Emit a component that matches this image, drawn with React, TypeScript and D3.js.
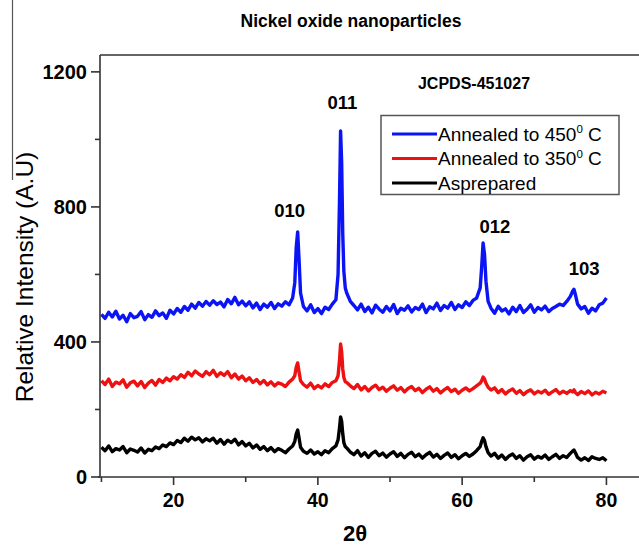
import { useEffect, useRef } from 'react';
import * as d3 from 'd3';

// 2theta positions (deg), denser around the reflections
const twoTheta = [
  10, 10.5, 11, 11.5, 12, 12.5, 13, 13.5, 14, 14.5,
  15, 15.5, 16, 16.5, 17, 17.5, 18, 18.5, 19, 19.5,
  20, 20.5, 21, 21.5, 22, 22.5, 23, 23.5, 24, 24.5,
  25, 25.5, 26, 26.5, 27, 27.5, 28, 28.5, 29, 29.5,
  30, 30.5, 31, 31.5, 32, 32.5, 33, 33.5, 34, 34.5,
  35, 35.5, 36, 36.5,
  36.8, 37.0, 37.2, 37.4, 37.6,
  38, 38.5, 39, 39.5, 40, 40.5, 41, 41.5, 42, 42.5,
  42.8, 43.0, 43.15, 43.3, 43.45, 43.6, 43.8,
  44, 44.5, 45, 45.5, 46, 46.5, 47, 47.5, 48, 48.5,
  49, 49.5, 50, 50.5, 51, 51.5, 52, 52.5, 53, 53.5,
  54, 54.5, 55, 55.5, 56, 56.5, 57, 57.5, 58, 58.5,
  59, 59.5, 60, 60.5, 61, 61.5, 62, 62.5,
  62.7, 62.9, 63.1, 63.3, 63.6,
  64, 64.5, 65, 65.5, 66, 66.5, 67, 67.5, 68, 68.5,
  69, 69.5, 70, 70.5, 71, 71.5, 72, 72.5, 73, 73.5,
  74, 74.5, 75,
  75.3, 75.5, 75.7,
  76, 76.5, 77, 77.5, 78, 78.5, 79, 79.5, 80,
];

const annealed450 = [
  482, 470, 488, 474, 491, 468, 479, 460, 484, 472,
  476, 490, 466, 481, 473, 492, 478, 486, 470, 494,
  483, 499, 488, 505, 494, 512, 500, 517, 506, 520,
  509, 522, 511, 518, 504, 526, 513, 532, 510, 521,
  507, 519, 501, 515, 496, 512, 503, 517, 499, 513,
  506, 519, 510, 530,
  575, 680, 726, 640, 545,
  505, 492, 510, 487, 499, 484, 503, 496, 512, 525,
  600, 820, 1025, 930, 720, 610, 560,
  545, 520, 508, 495, 512, 490, 503, 486, 509, 497,
  488, 505, 492, 511, 484, 500, 494, 507, 489, 502,
  496, 512, 487, 504, 498, 515, 493, 508, 500, 517,
  496, 510, 502, 519, 508, 523, 530, 560,
  620, 693, 660, 580, 520,
  500, 485, 506, 492, 498, 483, 503, 490, 508, 487,
  497, 510, 488, 502, 495, 506, 490, 499, 505, 512,
  508, 520, 535,
  550, 556, 540,
  512, 498, 505, 485, 500, 492, 510, 515, 530,
];

const annealed350 = [
  285, 274, 290, 268, 281, 276, 288, 266, 279, 284,
  270, 283, 265, 278, 286, 272, 289, 280, 293, 285,
  297, 290, 303, 295, 310, 300, 314, 305, 298, 312,
  303, 316, 298, 309, 301, 312, 294, 305, 290, 299,
  285, 294, 280, 289, 276, 286, 273, 282, 270, 279,
  275, 268, 281, 290,
  300, 325, 338, 310, 285,
  274, 266, 278, 262, 271, 264, 276, 268, 280, 285,
  300, 345, 394, 370, 320, 295, 282,
  280, 270, 262, 274, 258, 268, 255, 265, 272, 259,
  266, 254, 263, 270, 257, 265, 252, 262, 268, 256,
  263, 250, 260, 267, 254, 262, 249, 258, 265, 253,
  260, 248, 257, 264, 255, 262, 270, 278,
  285, 296, 290, 278, 266,
  258, 264, 250, 259, 246, 255, 261, 248, 256, 244,
  253, 258, 246, 254, 249, 257, 245, 252, 259, 247,
  254, 248, 256,
  252, 258, 250,
  244, 253, 247, 255, 243, 251, 246, 254, 249,
];

const asPrepared = [
  88, 78, 92, 75, 84, 80, 90, 72, 83, 79,
  74, 86, 71, 82, 78, 89, 84, 95, 90, 101,
  96, 108, 102, 115, 106, 118, 110, 116, 104, 113,
  107, 115, 100, 111, 97, 109, 102, 112, 95, 105,
  92, 100, 86, 95, 82, 90, 78, 87, 75, 84,
  79, 72, 83, 92,
  105, 128, 139, 115, 88,
  76, 70, 80, 68, 75, 66, 78, 72, 84, 92,
  110, 145, 178, 165, 128, 102, 90,
  86, 74, 66, 78, 62, 72, 58, 70, 76, 63,
  71, 59, 68, 75, 61, 70, 57, 67, 73, 60,
  68, 56, 66, 73, 59, 67, 55, 64, 71, 58,
  66, 54, 63, 70, 61, 68, 78, 90,
  105, 116, 108, 90, 72,
  62, 70, 56, 65, 52, 62, 68, 55, 63, 50,
  60, 66, 53, 61, 56, 65, 52, 60, 67, 55,
  63, 58, 70,
  76, 80, 72,
  58, 50, 57, 49, 60, 55, 52, 57, 48,
];

const yTicks = [0, 400, 800, 1200];
const yMinorTicks = [200, 600, 1000];
const xTicks = [20, 40, 60, 80];
const xMinorTicks = [10, 30, 50, 70];

const peakLabels = [
  { hkl: '010', t: 36.1, v: 770 },
  { hkl: '011', t: 43.4, v: 1090 },
  { hkl: '012', t: 64.55, v: 723 },
  { hkl: '103', t: 76.9, v: 598 },
];

const seriesList = [
  { label: 'Annealed to 450', sup: '0', unit: ' C', color: '#0a14f5', values: annealed450 },
  { label: 'Annealed to 350', sup: '0', unit: ' C', color: '#ee1111', values: annealed350 },
  { label: 'Asprepared', sup: '', unit: '', color: '#000000', values: asPrepared },
];

const FONT = '"Liberation Sans", Arial, sans-serif';

const App = () => {
  const svgRef = useRef<SVGSVGElement>(null);

  useEffect(() => {
    const width = 639;
    const height = 545;
    const left = 100, top = 55, bottom = 477;

    const svg = d3.select(svgRef.current)
      .attr('width', width)
      .attr('height', height);
    svg.selectAll('*').remove();

    const x = d3.scaleLinear().domain([9.8, 85]).range([left, 642.5]);
    const y = d3.scaleLinear().domain([0, 1250]).range([bottom, top]);

    // stray crop line at the far left
    svg.append('line')
      .attr('x1', 12.5).attr('x2', 12.5).attr('y1', 0).attr('y2', 180)
      .attr('stroke', '#555').attr('stroke-width', 1.2);

    // title
    svg.append('text')
      .attr('x', 351).attr('y', 27)
      .attr('text-anchor', 'middle')
      .attr('font-family', FONT).attr('font-weight', 'bold').attr('font-size', 17.5)
      .text('Nickel oxide nanoparticles');

    // series
    const line = d3.line<number>()
      .x((_, i) => x(twoTheta[i]))
      .y(d => y(d));

    svg.selectAll('.series')
      .data(seriesList)
      .enter().append('path')
      .attr('class', 'series')
      .attr('fill', 'none')
      .attr('stroke', d => d.color)
      .attr('stroke-width', 3.4)
      .attr('stroke-linejoin', 'round')
      .attr('d', d => line(d.values));

    // frame: top, left, bottom
    const frame = svg.append('g').attr('stroke', '#333').attr('stroke-width', 1.6);
    frame.append('line').attr('x1', left).attr('x2', width).attr('y1', top).attr('y2', top);
    frame.append('line').attr('x1', left).attr('x2', left).attr('y1', top).attr('y2', bottom);
    frame.append('line').attr('x1', left - 2).attr('x2', width).attr('y1', bottom).attr('y2', bottom);

    // y ticks
    frame.selectAll('.ymaj').data(yTicks).enter().append('line')
      .attr('x1', left - 9).attr('x2', left).attr('y1', d => y(d)).attr('y2', d => y(d));
    frame.selectAll('.ymin').data(yMinorTicks).enter().append('line')
      .attr('x1', left - 5).attr('x2', left).attr('y1', d => y(d)).attr('y2', d => y(d));
    svg.selectAll('.ylab').data(yTicks).enter().append('text')
      .attr('x', left - 13).attr('y', d => y(d) + 7)
      .attr('text-anchor', 'end')
      .attr('font-family', FONT).attr('font-weight', 'bold').attr('font-size', 20)
      .text(d => d);

    // x ticks
    frame.selectAll('.xmaj').data(xTicks).enter().append('line')
      .attr('x1', d => x(d)).attr('x2', d => x(d)).attr('y1', bottom).attr('y2', bottom + 8);
    frame.selectAll('.xmin').data(xMinorTicks).enter().append('line')
      .attr('x1', d => x(d)).attr('x2', d => x(d)).attr('y1', bottom).attr('y2', bottom + 5);
    svg.selectAll('.xlab').data(xTicks).enter().append('text')
      .attr('x', d => x(d)).attr('y', 507)
      .attr('text-anchor', 'middle')
      .attr('font-family', FONT).attr('font-weight', 'bold').attr('font-size', 19.5)
      .text(d => d);

    // axis titles
    svg.append('text')
      .attr('x', 355).attr('y', 541)
      .attr('text-anchor', 'middle')
      .attr('font-family', FONT).attr('font-weight', 'bold').attr('font-size', 22)
      .text('2θ');
    svg.append('text')
      .attr('transform', 'translate(33,277) rotate(-90)')
      .attr('text-anchor', 'middle')
      .attr('font-family', FONT).attr('font-size', 24.5)
      .text('Relative Intensity (A.U)');

    // reflections and card number
    svg.selectAll('.peak').data(peakLabels).enter().append('text')
      .attr('x', d => x(d.t)).attr('y', d => y(d.v))
      .attr('text-anchor', 'middle')
      .attr('font-family', FONT).attr('font-weight', 'bold').attr('font-size', 18.5)
      .text(d => d.hkl);
    svg.append('text')
      .attr('x', 474).attr('y', 89)
      .attr('text-anchor', 'middle')
      .attr('font-family', FONT).attr('font-weight', 'bold').attr('font-size', 16)
      .text('JCPDS-451027');

    // legend
    const legend = svg.append('g');
    legend.append('rect')
      .attr('x', 381).attr('y', 115.5).attr('width', 238).attr('height', 79)
      .attr('fill', 'white').attr('stroke', '#555').attr('stroke-width', 1.5);
    const rows = legend.selectAll('.row').data(seriesList).enter().append('g')
      .attr('transform', (_, i) => `translate(0, ${134 + i * 24.5})`);
    rows.append('line')
      .attr('x1', 392).attr('x2', 437).attr('y1', 0).attr('y2', 0)
      .attr('stroke', d => d.color).attr('stroke-width', 3);
    const txt = rows.append('text')
      .attr('x', 438).attr('y', 6.5)
      .attr('font-family', FONT).attr('font-size', 19);
    txt.append('tspan').text(d => d.label);
    txt.append('tspan').attr('dy', -7.5).attr('font-size', 11.5).text(d => d.sup);
    txt.append('tspan').attr('dy', 7.5).text(d => d.unit);
  }, []);

  return (
    <div>
      <svg ref={svgRef} style={{ position: 'absolute', left: 0, top: 0 }} />
    </div>
  );
};

export default App;
